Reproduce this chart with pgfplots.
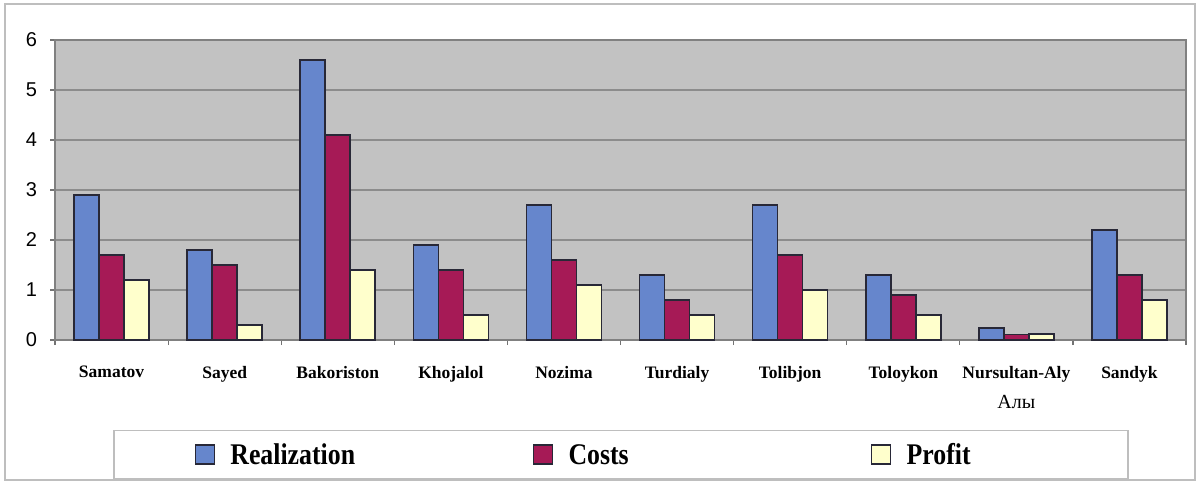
\documentclass[border=0pt]{standalone}
\usepackage{fontspec}
\setmainfont{Liberation Serif}
\newfontfamily\arialfont{Liberation Sans}
\newfontfamily\legfont[FakeStretch=0.86]{Liberation Serif}
\usepackage{pgfplots}
\pgfplotsset{compat=1.18}
\definecolor{realc}{RGB}{102,134,204}
\definecolor{costc}{RGB}{166,26,86}
\definecolor{profc}{RGB}{255,255,204}
\definecolor{plotbg}{RGB}{194,194,194}
\definecolor{gridc}{RGB}{140,140,140}
\definecolor{framec}{RGB}{190,190,190}
\definecolor{barline}{RGB}{40,40,55}
\pgfplotsset{sqlegend/.style={legend image code/.code={\draw[##1, line width=0.6pt] (0pt,-4.75pt) rectangle (9.5pt,4.75pt); \path (-40.5pt,0pt) (14pt,0pt);}}}
\begin{document}
\begin{tikzpicture}
\useasboundingbox (0,0) rectangle (599pt,241.5pt);
\draw[framec, line width=0.8pt] (2.5pt,1.5pt) rectangle (597.5pt,239.5pt);
\begin{axis}[
  at={(27.5pt,71.5pt)}, anchor=south west,
  scale only axis, width=565.5pt, height=150pt,
  ybar=0pt, bar width=12.5pt,
  xmin=-0.5, xmax=9.5, ymin=0, ymax=6,
  ytick={0,...,6},
  xtick={0,...,9},
  xtick pos=bottom, ytick pos=left,
  xticklabels={Samatov,Sayed,Bakoriston,Khojalol,Nozima,Turdialy,Tolibjon,Toloykon,{Nursultan-Aly\\{\mdseries\fontsize{10}{15}\selectfont Алы}},Sandyk},
  minor xtick={-0.5,0.5,...,9.5},
  major x tick style={draw=none},
  tick align=outside,
  major tick length=2.5pt, minor tick length=2.5pt,
  tick style={black!55, line width=0.6pt},
  axis line style={draw=black!50, line width=0.8pt},
  axis background/.style={fill=plotbg},
  ymajorgrids, major grid style={gridc, line width=1pt},
  /pgf/number format/assume math mode=true,
  yticklabel style={font=\arialfont\fontsize{10}{11}\selectfont, xshift=-3pt},
  xticklabel style={font=\bfseries\fontsize{8.75}{15}\selectfont, align=center, yshift=-7pt},
  legend columns=3,
  legend cell align=left,
  legend style={at={(0.5004,-0.3817)}, anchor=center, draw=framec, line width=0.8pt,
    inner xsep=0pt, inner ysep=4.5pt,
    /tikz/every even column/.append style={column sep=0pt},
    font=\legfont\bfseries\fontsize{15}{17}\selectfont,
    nodes={inner xsep=3pt, inner ysep=2.5pt, text width=107.75pt, text height=10pt, text depth=0pt}},
]
\addplot[fill=realc, draw=barline, line width=0.8pt, sqlegend] coordinates {(0,2.9)(1,1.8)(2,5.6)(3,1.9)(4,2.7)(5,1.3)(6,2.7)(7,1.3)(8,0.24)(9,2.2)};
\addplot[fill=costc, draw=barline, line width=0.8pt, sqlegend] coordinates {(0,1.7)(1,1.5)(2,4.1)(3,1.4)(4,1.6)(5,0.8)(6,1.7)(7,0.9)(8,0.11)(9,1.3)};
\addplot[fill=profc, draw=barline, line width=0.8pt, sqlegend] coordinates {(0,1.2)(1,0.3)(2,1.4)(3,0.5)(4,1.1)(5,0.5)(6,1.0)(7,0.5)(8,0.12)(9,0.8)};
\legend{Realization,Costs,Profit}
\end{axis}
\end{tikzpicture}
\end{document}
